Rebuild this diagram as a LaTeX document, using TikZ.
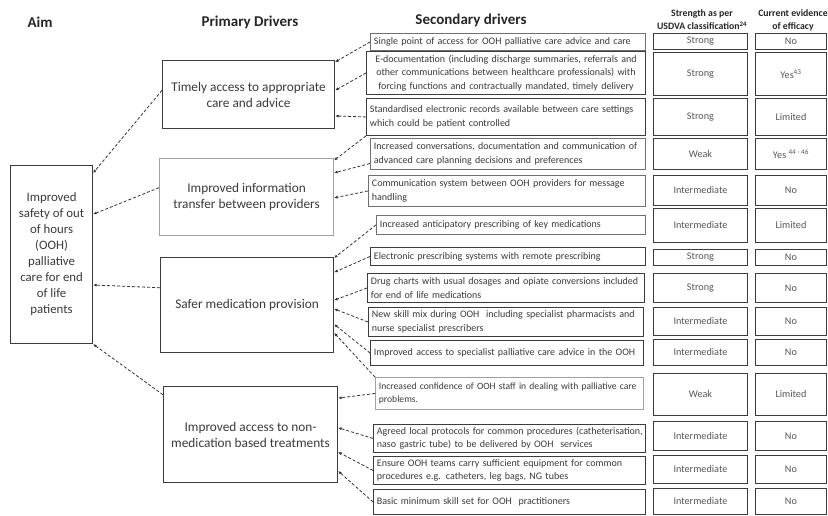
\documentclass[tikz,border=0pt]{standalone}
\usepackage{fontspec}
\setmainfont{Carlito}
\usetikzlibrary{calc,arrows.meta}
\definecolor{txt}{HTML}{3A3A3A}
\definecolor{edge}{HTML}{3C3C3C}
\definecolor{lightedge}{HTML}{A0A0A0}
\definecolor{midedge}{HTML}{707070}
\newcommand\lline[1]{\mbox{#1}}
\newcommand\secnode[7][]{\node[secbox,#1, minimum height=#6pt, text width=#5pt] (#2) at (#3,#4) {#7};}
\newcommand\rownode[6]{%
  \node[valbox, minimum height=#3pt] (r#1) at (653,#2) {#4};
  \node[valbox, minimum width=71pt, minimum height=#3pt] (e#1) at (755,#2) {#6};}
\begin{document}
\begin{tikzpicture}[x=1pt,y=-1pt,
  secbox/.style={draw=edge, line width=0.9pt, fill=white, anchor=north west,
    inner xsep=3.5pt, inner ysep=0pt, align=left,
    font=\fontsize{10}{13.4}\selectfont, text=txt},
  valbox/.style={draw=edge, line width=0.9pt, fill=white, anchor=north west,
    minimum width=94pt, inner sep=0pt, font=\fontsize{10.2}{12}\selectfont, text=txt!85},
  prim/.style={draw=edge, line width=1.1pt, fill=white, anchor=north west,
    inner sep=0pt, align=center, font=\fontsize{13.3}{16}\selectfont, text=txt},
  hdr/.style={font=\fontsize{15}{16}\selectfont\bfseries, text=black!85},
  colhdr/.style={font=\fontsize{9.8}{13}\selectfont\bfseries, text=black!85, align=center},
  conn/.style={draw=black!80, line width=0.8pt, dash pattern=on 3pt off 2pt,
    -{Latex[length=3.5pt,width=3pt]}}
]
\useasboundingbox (0,0) rectangle (828,516);
\fill[white] (0,0) rectangle (828,516);

% headers
\node[hdr] (haim) at (40,22) {Aim};
\node[hdr] (hprim) at (250,22) {Primary Drivers};
\node[hdr] (hsec) at (471,20) {Secondary drivers};
\node[colhdr] (hstr) at (702,20) {Strength as per\\USDVA classification\textsuperscript{24}};
\node[colhdr] (hev) at (793,20) {Current evidence\\of efficacy};

% aim
\node[prim, font=\fontsize{12.8}{16}\selectfont, minimum width=82pt, minimum height=178pt] (aim) at (10,165)
  {Improved\\safety of out\\of hours\\(OOH)\\palliative\\care for end\\of life\\patients};

% primary drivers
\node[prim, minimum width=172pt, minimum height=68pt] (p1) at (162,60)
  {Timely access to appropriate\\care and advice};
\node[prim, draw=lightedge, minimum width=174pt, minimum height=77pt] (p2) at (159,158)
  {Improved information\\transfer between providers};
\node[prim, minimum width=173pt, minimum height=95pt] (p3) at (160,257)
  {Safer medication provision};
\node[prim, minimum width=174pt, minimum height=96pt] (p4) at (163,386)
  {Improved access to non-\\medication based treatments};

% secondary drivers
\secnode[draw=midedge]{s1}{370}{33}{268}{17}{\lline{Single point of access for OOH palliative care advice and care}}
\secnode[align=center]{s2}{366}{51}{272}{43}{\lline{E-documentation (including discharge summaries, referrals and}\\\lline{other communications between healthcare professionals) with}\\\lline{forcing functions and contractually mandated, timely delivery}}
\secnode{s3}{366}{98}{272}{37}{\lline{Standardised electronic records available between care settings}\\\lline{which could be patient controlled}}
\secnode[draw=midedge]{s4}{370}{138}{268}{31}{\lline{Increased conversations, documentation and communication of}\\\lline{advanced care planning decisions and preferences}}
\secnode[draw=midedge]{s5}{368}{175}{270}{31}{\lline{Communication system between OOH providers for message}\\\lline{handling}}
\secnode[draw=midedge]{s6}{376}{215}{262}{19}{\lline{Increased anticipatory prescribing of key medications}}
\secnode{s7}{370}{247}{268}{18}{\lline{Electronic prescribing systems with remote prescribing}}
\secnode{s8}{367}{273}{270}{29}{\lline{Drug charts with usual dosages and opiate conversions included}\\\lline{for end of life medications}}
\secnode{s9}{368}{307}{268}{29}{\lline{New skill mix during OOH\ \ including specialist pharmacists and}\\\lline{nurse specialist prescribers}}
\secnode{s10}{370}{340}{266}{25}{\lline{Improved access to specialist palliative care advice in the OOH}}
\secnode[draw=lightedge, font=\fontsize{9.6}{13.4}\selectfont]{s11}{375}{377}{261}{32}{\lline{Increased confidence of OOH staff in dealing with palliative care}\\\lline{problems.}}
\secnode{s12}{373}{424}{265}{28}{\lline{Agreed local protocols for common procedures (catheterisation,}\\\lline{naso gastric tube) to be delivered by OOH\ \ services}}
\secnode{s13}{373}{456}{265}{28}{\lline{Ensure OOH teams carry sufficient equipment for common}\\\lline{procedures e.g. catheters, leg bags, NG tubes}}
\secnode{s14}{373}{489}{265}{25}{\lline{Basic minimum skill set for OOH\ \ practitioners}}

% strength / evidence
\rownode{1}{33}{16}{Strong}{}{No}
\rownode{2}{52}{43}{Strong}{}{Yes\textsuperscript{43}}
\rownode{3}{98}{37}{Strong}{}{Limited}
\rownode{4}{138}{31}{Weak}{}{Yes \textsuperscript{44 - 46}}
\rownode{5}{175}{30}{Intermediate}{}{No}
\rownode{6}{208}{34}{Intermediate}{}{Limited}
\rownode{7}{249}{16}{Strong}{}{No}
\rownode{8}{273}{29}{Strong}{}{No}
\rownode{9}{307}{28}{Intermediate}{}{No}
\rownode{10}{339}{26}{Intermediate}{}{No}
\rownode{11}{373}{42}{Weak}{}{Limited}
\rownode{12}{421}{29}{Intermediate}{}{No}
\rownode{13}{455}{28}{Intermediate}{}{No}
\rownode{14}{488}{26}{Intermediate}{}{No}

% connectors secondary -> primary
\draw[conn] (s1.west) -- ($(p1.north east)!0.03!(p1.south east)$);
\draw[conn] (s2.west) -- ($(p1.north east)!0.44!(p1.south east)$);
\draw[conn] (s3.west) -- ($(p1.north east)!0.81!(p1.south east)$);
\draw[conn] (s3.south west) -- ($(p2.north east)!0.03!(p2.south east)$);
\draw[conn] ($(s4.north west)!0.8!(s4.south west)$) -- ($(p2.north east)!0.19!(p2.south east)$);
\draw[conn] (s5.west) -- ($(p2.north east)!0.51!(p2.south east)$);
\draw[conn] (s6.west) -- ($(p3.north east)!0.01!(p3.south east)$);
\draw[conn] (s7.west) -- ($(p3.north east)!0.16!(p3.south east)$);
\draw[conn] (s8.west) -- ($(p3.north east)!0.45!(p3.south east)$);
\draw[conn] (s9.west) -- ($(p3.north east)!0.54!(p3.south east)$);
\draw[conn] (s10.west) -- ($(p3.north east)!0.70!(p3.south east)$);
\draw[conn] (s11.north west) -- ($(p3.north east)!0.79!(p3.south east)$);
\draw[conn] (s11.west) -- ($(p4.north east)!0.125!(p4.south east)$);
\draw[conn] (s12.west) -- ($(p4.north east)!0.43!(p4.south east)$);
\draw[conn] (s13.west) -- ($(p4.north east)!0.68!(p4.south east)$);
\draw[conn] (s14.west) -- ($(p4.north east)!0.875!(p4.south east)$);

% connectors primary -> aim
\draw[conn] ($(p1.north west)!0.44!(p1.south west)$) -- ($(aim.north east)!0.045!(aim.south east)$);
\draw[conn] ($(p2.north west)!0.38!(p2.south west)$) -- ($(aim.north east)!0.275!(aim.south east)$);
\draw[conn] ($(p3.north west)!0.32!(p3.south west)$) -- ($(aim.north east)!0.67!(aim.south east)$);
\draw[conn] ($(p4.north west)!0.09!(p4.south west)$) -- (aim.south east);
\end{tikzpicture}
\end{document}
